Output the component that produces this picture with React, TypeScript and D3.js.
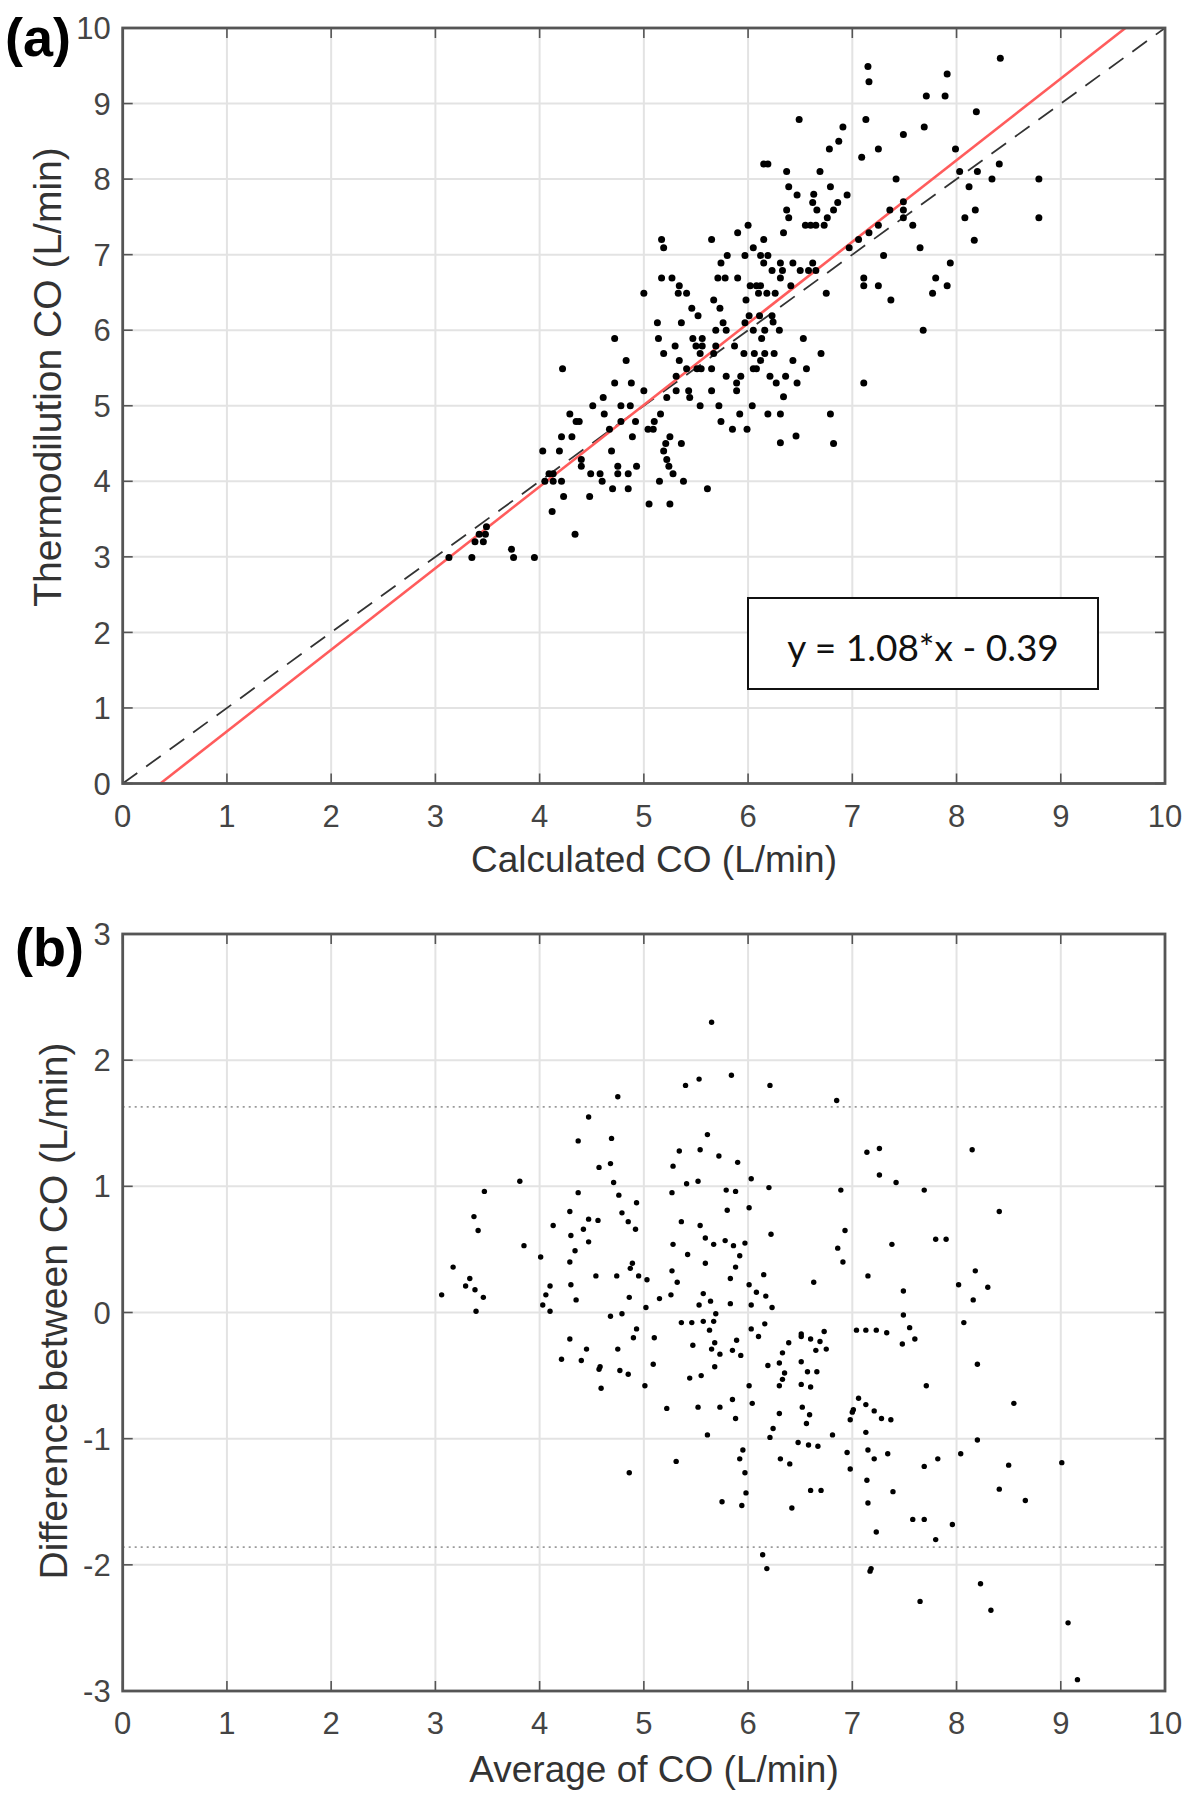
import React from "react";
import * as d3 from "d3";

// ---------- Panel (a): Calculated vs Thermodilution CO ----------
const calcCO: number[] = [
  6.15, 6.19, 6.37, 6.39, 6.47, 6.37, 6.39, 6.34, 6.0, 5.9, 6.15, 6.05, 5.65, 5.17, 5.19, 5.8, 5.97, 6.12, 6.19, 5.74,
  6.15, 6.31, 6.43, 6.23, 6.33, 6.31, 6.41, 6.5, 5.17, 5.27, 5.71, 5.78, 5.9, 5.34, 5.33, 5.41, 5.0, 6.02, 6.08, 6.12,
  6.1, 6.18, 6.26, 5.98, 5.67, 5.73, 5.46, 5.52, 6.01, 6.11, 6.23, 6.24, 5.76, 5.69, 5.79, 5.97, 6.05, 6.16, 6.3, 5.13,
  5.36, 5.14, 5.47, 5.56, 6.13, 4.72, 5.3, 5.5, 5.56, 5.87, 5.96, 6.06, 6.16, 6.25, 5.19, 5.54, 5.67, 5.69, 6.12, 6.43,
  4.83, 5.34, 5.41, 5.51, 5.55, 5.65, 6.05, 6.08, 4.22, 5.79, 5.93, 6.21, 6.36, 5.31, 4.72, 4.88, 5.89, 5.89, 6.27, 6.47,
  5.0, 5.31, 5.43, 5.65, 6.34, 4.61, 5.22, 5.44,
  4.51, 4.62, 4.78, 4.87, 4.29, 4.35, 4.38, 4.78, 4.92, 5.16, 5.1, 5.04, 5.09, 4.67, 4.21, 4.31, 4.89, 5.25, 5.21, 5.36,
  5.19, 5.22, 5.24, 5.28, 5.38, 5.15, 4.03, 4.19, 4.4, 4.4, 4.49, 4.58, 4.6, 4.75, 4.75, 4.85, 4.93, 4.69, 4.7, 4.85,
  4.13, 4.09, 4.05, 4.13, 4.21, 4.23, 4.48, 5.05, 5.25, 5.61, 4.12, 4.34, 3.49, 3.42, 3.48, 3.38, 3.46, 3.13, 3.35, 3.73,
  3.75, 3.95, 6.31, 6.46, 5.54, 5.72, 6.04, 5.74, 5.92, 6.19, 6.31, 5.85, 5.99,
  8.19, 7.99, 8.03, 8.2, 8.41, 8.12, 8.34, 8.79, 8.18, 8.08, 8.17, 8.79, 7.42, 7.36, 7.49, 7.49, 7.49, 7.58, 7.65, 7.25,
  7.16, 7.06, 6.97, 7.3, 7.94, 7.8, 7.91, 7.77, 7.11, 7.11, 7.25, 7.37, 7.68, 7.11, 6.75, 6.58, 6.65, 6.62, 6.7, 6.56,
  6.53, 6.79, 6.82, 6.49, 7.13, 6.91, 6.87, 6.78, 7.25, 7.09, 7.49, 7.69, 6.69, 6.79, 6.63, 6.62, 6.66, 6.95, 6.86, 6.82,
  6.76, 6.55, 6.6, 6.65, 6.73,
  8.42, 7.15, 7.16, 7.91, 7.71, 7.89,
];
const thermoCO: number[] = [
  8.2, 8.2, 8.1, 7.9, 7.79, 7.59, 7.49, 7.29, 7.39, 7.29, 7.2, 7.09, 7.2, 7.2, 7.09, 6.99, 6.99, 6.99, 6.99, 6.89,
  6.89, 6.89, 6.89, 6.79, 6.79, 6.69, 6.59, 6.79, 6.69, 6.69, 6.69, 6.69, 6.69, 6.59, 6.49, 6.49, 6.49, 6.59, 6.59, 6.59,
  6.49, 6.49, 6.49, 6.4, 6.4, 6.29, 6.29, 6.19, 6.19, 6.19, 6.19, 6.11, 6.1, 6.0, 6.0, 6.1, 6.0, 6.0, 6.0, 6.1,
  6.1, 5.89, 5.89, 5.89, 5.89, 5.89, 5.79, 5.79, 5.79, 5.79, 5.69, 5.69, 5.69, 5.69, 5.69, 5.69, 5.69, 5.79, 5.6, 5.6,
  5.6, 5.6, 5.49, 5.49, 5.49, 5.49, 5.49, 5.49, 5.49, 5.39, 5.39, 5.39, 5.39, 5.39, 5.3, 5.3, 5.3, 5.2, 5.3, 5.3,
  5.2, 5.2, 5.2, 5.2, 5.12, 5.11, 5.11, 5.11,
  5.0, 4.89, 5.0, 5.0, 4.89, 4.79, 4.79, 4.79, 4.79, 4.89, 4.79, 4.69, 4.69, 4.69, 4.59, 4.59, 4.59, 4.59, 4.5, 4.5,
  4.4, 4.29, 4.2, 4.1, 4.0, 4.0, 4.4, 4.4, 4.29, 4.2, 4.1, 4.1, 4.0, 4.2, 4.1, 4.1, 4.2, 4.4, 3.9, 3.9,
  4.1, 4.1, 4.0, 4.0, 4.0, 3.8, 3.8, 3.7, 3.7, 3.9, 3.6, 3.3, 3.4, 3.3, 3.3, 3.2, 3.2, 2.99, 2.99, 3.1,
  2.99, 2.99, 4.51, 4.6, 5.0, 5.0, 5.0, 4.79, 4.89, 4.89, 4.89, 4.69, 4.69,
  8.89, 8.4, 8.1, 8.1, 8.2, 7.9, 8.0, 8.0, 7.59, 7.49, 7.19, 7.49, 8.0, 7.59, 7.7, 7.59, 7.49, 7.39, 7.09, 7.39,
  7.29, 7.2, 7.09, 6.99, 6.89, 6.69, 6.59, 6.49, 6.69, 6.59, 6.59, 6.4, 6.0, 5.3, 6.49, 6.79, 6.79, 6.89, 5.69, 5.49,
  5.89, 4.89, 4.5, 8.79, 8.79, 8.69, 8.5, 8.4, 8.4, 8.29, 8.59, 8.69, 8.1, 7.9, 7.8, 7.69, 7.59, 7.79, 7.69, 7.59,
  7.49, 7.39, 7.39, 7.39, 7.39,
  9.6, 9.49, 9.29, 9.39, 9.1, 9.1,
];

// ---------- Panel (b): Bland-Altman ----------
const avgCO: number[] = [
  5.65, 5.4, 5.53, 5.84, 4.75, 4.47, 4.37, 4.69, 4.57, 4.68, 4.71, 4.76, 4.93, 4.79, 4.85, 4.92, 3.81, 3.47, 3.37, 3.41,
  3.85, 4.37, 4.29, 4.47, 4.56, 4.42, 4.13, 4.3, 4.47, 4.34, 4.01, 4.29, 3.17, 3.33, 3.29, 3.38, 3.46, 3.06, 3.39, 4.1,
  4.06, 4.03, 4.1, 4.3, 4.35, 4.54, 4.74, 4.89, 4.87, 4.95, 5.03, 4.86, 5.02, 4.68, 4.79, 4.93, 4.9, 5.1, 4.29, 5.15,
  5.26, 5.27, 5.32, 5.28, 5.42, 5.36, 5.27, 5.28, 5.34, 5.41, 5.52, 5.54, 5.61, 5.72, 5.9, 6.03, 5.79, 5.88, 5.8, 6.01,
  5.54, 5.59, 5.67, 5.78, 5.86, 5.97, 5.92, 5.59, 5.88, 5.83, 6.01, 6.08, 5.57, 5.53, 5.64, 5.69, 5.83, 6.03, 5.36, 5.46,
  5.57, 5.67, 5.63, 5.47, 5.68, 5.89, 6.03, 6.1,
  6.21, 6.85, 7.14, 7.26, 7.26, 7.42, 7.69, 8.15, 8.41, 6.2, 6.22, 6.89, 6.93, 6.86, 6.91, 7.38, 7.8, 7.9, 7.15, 6.63,
  6.15, 6.17, 6.23, 7.49, 7.49, 8.02, 8.18, 8.3, 8.16, 8.07, 6.16, 6.39, 6.51, 6.51, 6.6, 6.69, 6.73, 7.04, 7.13, 7.23,
  7.33, 7.55, 7.6, 7.48,
  4.21, 4.45, 4.4, 4.58, 4.57, 4.59, 4.75, 4.77, 4.85, 5.09, 5.01, 4.86, 5.22, 5.31, 5.44, 5.55, 5.65, 5.73, 5.85, 5.93,
  5.68, 5.52, 5.73, 5.85, 5.88, 5.61, 5.75, 5.94, 5.98, 5.97, 5.92, 5.95, 6.01, 6.04, 6.19, 6.3, 6.33, 6.35, 6.33, 6.3,
  6.3, 6.24, 6.21, 6.31, 6.4, 6.42, 6.14, 6.18, 6.65, 6.75, 6.51, 6.57, 6.66, 6.51, 6.6, 6.52, 6.59, 6.56, 6.48, 6.58,
  6.67, 6.81, 6.6, 6.7, 6.95, 6.98, 7.06, 7.01, 7.0, 6.98, 7.13, 7.21, 7.28, 7.37, 7.13, 7.15, 7.21, 7.34, 7.14, 7.15,
  7.39, 7.23, 7.18, 7.17, 7.71, 7.69, 7.82, 7.58, 7.69, 7.8, 7.96, 8.04, 8.2, 8.2, 7.65, 8.23, 8.33, 8.55, 8.5, 8.41,
  8.66, 9.01, 9.07, 9.16,
];
const diffCO: number[] = [
  2.3, 1.8, 1.85, 1.88, 1.71, 1.55, 1.36, 1.38, 1.15, 1.18, 1.03, 0.93, 0.87, 0.79, 0.72, 0.66, 1.04, 0.96, 0.76, 0.65,
  0.53, 0.95, 0.8, 0.74, 0.73, 0.66, 0.69, 0.61, 0.56, 0.49, 0.44, 0.4, 0.36, 0.27, 0.21, 0.18, 0.12, 0.14, 0.01, 0.21,
  0.14, 0.06, 0.01, 0.22, 0.1, 0.29, 0.29, 0.39, 0.35, 0.29, 0.26, 0.12, 0.04, -0.03, -0.01, -0.13, -0.2, -0.2, -0.21, 0.11,
  0.14, 0.33, 0.24, 0.54, 0.46, 0.72, 0.95, 1.16, 1.28, 1.02, 1.04, 1.29, 1.41, 1.24, 1.19, 1.06, 0.97, 0.96, 0.81, 0.83,
  0.69, 0.59, 0.54, 0.57, 0.53, 0.55, 0.45, 0.39, 0.36, 0.27, 0.22, 0.16, 0.15, 0.06, 0.09, -0.01, 0.07, 0.06, -0.08, -0.08,
  -0.07, -0.07, -0.14, -0.26, -0.24, -0.22, -0.13, -0.19,
  1.8, 1.68, 1.27, 1.3, 1.09, 1.03, 0.97, 1.29, 0.8, 0.99, 0.62, 0.97, 0.65, 0.51, 0.4, 0.54, 0.58, 0.58, 0.29, 0.24,
  0.3, 0.13, 0.04, 0.17, -0.02, 0.22, 0.33, 0.2, 0.1, -0.08, -0.09, -0.24, -0.17, -0.19, -0.21, -0.23, -0.15, -0.14, -0.14, -0.14,
  -0.16, -0.12, -0.21, -0.25,
  -0.37, -0.29, -0.38, -0.43, -0.45, -0.6, -0.29, -0.46, -0.49, -0.41, -0.58, -1.27, -0.76, -1.18, -0.52, -0.5, -0.29, -0.33, -0.3, -0.34,
  -0.43, -0.75, -0.75, -0.69, -0.84, -0.97, -1.5, -1.53, -1.43, -1.27, -1.16, -1.09, -0.58, -0.72, -0.42, -0.4, -0.32, -0.48, -0.53, -0.58,
  -0.8, -0.92, -0.99, -1.16, -1.2, -1.55, -1.92, -2.03, -0.3, -0.29, -0.39, -0.47, -0.47, -0.57, -0.59, -0.75, -0.81, -0.88, -1.03, -1.05,
  -1.06, -0.97, -1.41, -1.41, -1.11, -1.24, -0.68, -0.77, -0.79, -0.85, -0.73, -0.78, -0.84, -0.85, -0.95, -1.09, -1.16, -1.12, -1.33, -1.51,
  -1.42, -1.74, -2.03, -2.05, -0.58, -1.22, -1.16, -1.64, -1.64, -1.8, -1.68, -1.12, -1.01, -0.41, -2.29, -2.15, -2.36, -0.72, -1.21, -1.4,
  -1.49, -1.19, -2.46, -2.91,
];

const ticksA = [0, 1, 2, 3, 4, 5, 6, 7, 8, 9, 10];
const ticksB = [-3, -2, -1, 0, 1, 2, 3];
const fitSlope = 1.08;
const fitIntercept = -0.39;
const limitsB = [1.63, -1.86];

const FONT = "'Liberation Sans', Arial, Helvetica, sans-serif";
const AXIS = "#555";
const GRID = "#e3e3e3";
const TICKTXT = "#444";

const X0 = 122.7;
const X1 = 1165;

type PanelProps = {
  top: number;
  bottom: number;
  yDomain: [number, number];
  yTicks: number[];
  children: (x: d3.ScaleLinear<number, number>, y: d3.ScaleLinear<number, number>) => React.ReactNode;
};

function Frame({ top, bottom, yDomain, yTicks, children }: PanelProps) {
  const x = d3.scaleLinear().domain([0, 10]).range([X0, X1]);
  const y = d3.scaleLinear().domain(yDomain).range([bottom, top]);
  const tl = 10;
  return (
    <g>
      {ticksA.map((t) => (
        <line key={"gx" + t} x1={x(t)} x2={x(t)} y1={top} y2={bottom} stroke={GRID} strokeWidth={2} />
      ))}
      {yTicks.map((t) => (
        <line key={"gy" + t} x1={X0} x2={X1} y1={y(t)} y2={y(t)} stroke={GRID} strokeWidth={2} />
      ))}
      {children(x, y)}
      {ticksA.map((t) => (
        <g key={"tx" + t}>
          <line x1={x(t)} x2={x(t)} y1={bottom} y2={bottom - tl} stroke={AXIS} strokeWidth={1.6} />
          <line x1={x(t)} x2={x(t)} y1={top} y2={top + tl} stroke={AXIS} strokeWidth={1.6} />
          <text x={x(t)} y={bottom + 43} textAnchor="middle" fontFamily={FONT} fontSize={31} fill={TICKTXT}>
            {t}
          </text>
        </g>
      ))}
      {yTicks.map((t) => (
        <g key={"ty" + t}>
          <line x1={X0} x2={X0 + tl} y1={y(t)} y2={y(t)} stroke={AXIS} strokeWidth={1.6} />
          <line x1={X1} x2={X1 - tl} y1={y(t)} y2={y(t)} stroke={AXIS} strokeWidth={1.6} />
          <text x={X0 - 12} y={y(t)} dy="0.36em" textAnchor="end" fontFamily={FONT} fontSize={31} fill={TICKTXT}>
            {t}
          </text>
        </g>
      ))}
      <rect x={X0} y={top} width={X1 - X0} height={bottom - top} fill="none" stroke={AXIS} strokeWidth={2.8} />
    </g>
  );
}

export default function App() {
  const pointsA = calcCO.map((v, i) => [v, thermoCO[i]] as [number, number]);
  const pointsB = avgCO.map((v, i) => [v, diffCO[i]] as [number, number]);
  return (
    <svg
      width={1196}
      height={1800}
      viewBox="0 0 1196 1800"
      style={{ position: "absolute", left: 0, top: 0, background: "#fff" }}
    >
      <rect width={1196} height={1800} fill="#fff" />
      {/* Panel a */}
      <Frame top={28} bottom={783.5} yDomain={[0, 10]} yTicks={ticksA}>
        {(x, y) => {
          const line = d3
            .line<number>()
            .x((d) => x(d))
            .y((d) => y(d));
          const fitX0 = -fitIntercept / fitSlope;
          const fitX1 = (10 - fitIntercept) / fitSlope;
          const fitLine = d3
            .line<number>()
            .x((d) => x(d))
            .y((d) => y(fitSlope * d + fitIntercept));
          return (
            <g>
              <path d={line([0, 10]) || ""} stroke="#333" strokeWidth={1.8} strokeDasharray="18 11" fill="none" />
              <path d={fitLine([fitX0, fitX1]) || ""} stroke="#ff5c5c" strokeWidth={2.6} fill="none" />
              {pointsA.map(([a, b], i) => (
                <circle key={i} cx={x(a)} cy={y(b)} r={3.5} fill="#000" />
              ))}
              <rect x={748} y={598} width={350} height={91} fill="#fff" stroke="#111" strokeWidth={2} />
              <text x={923} y={661} textAnchor="middle" fontFamily="Lato, 'Open Sans', sans-serif" fontSize={37} fill="#111">
                y = 1.08*x - 0.39
              </text>
            </g>
          );
        }}
      </Frame>
      {/* Panel b */}
      <Frame top={934} bottom={1691} yDomain={[-3, 3]} yTicks={ticksB}>
        {(x, y) => (
          <g>
            {limitsB.map((l) => (
              <line
                key={l}
                x1={X0}
                x2={X1}
                y1={y(l)}
                y2={y(l)}
                stroke="#9a9a9a"
                strokeWidth={1.8}
                strokeDasharray="2 4"
              />
            ))}
            {pointsB.map(([a, b], i) => (
              <circle key={i} cx={x(a)} cy={y(b)} r={2.7} fill="#000" />
            ))}
          </g>
        )}
      </Frame>

      {/* Panel labels */}
      <text x={5} y={56} fontFamily={FONT} fontWeight="bold" fontSize={54} fill="#000">
        (a)
      </text>
      <text x={15} y={966} fontFamily={FONT} fontWeight="bold" fontSize={54} fill="#000">
        (b)
      </text>

      {/* Axis titles */}
      <text x={654} y={872} textAnchor="middle" fontFamily={FONT} fontSize={37} fill="#333">
        Calculated CO (L/min)
      </text>
      <text
        transform="translate(61,377) rotate(-90)"
        textAnchor="middle"
        fontFamily={FONT}
        fontSize={39}
        fill="#333"
      >
        Thermodilution CO (L/min)
      </text>
      <text x={654} y={1782} textAnchor="middle" fontFamily={FONT} fontSize={37} fill="#333">
        Average of CO (L/min)
      </text>
      <text
        transform="translate(67,1311) rotate(-90)"
        textAnchor="middle"
        fontFamily={FONT}
        fontSize={39}
        fill="#333"
      >
        Difference between CO (L/min)
      </text>
    </svg>
  );
}
